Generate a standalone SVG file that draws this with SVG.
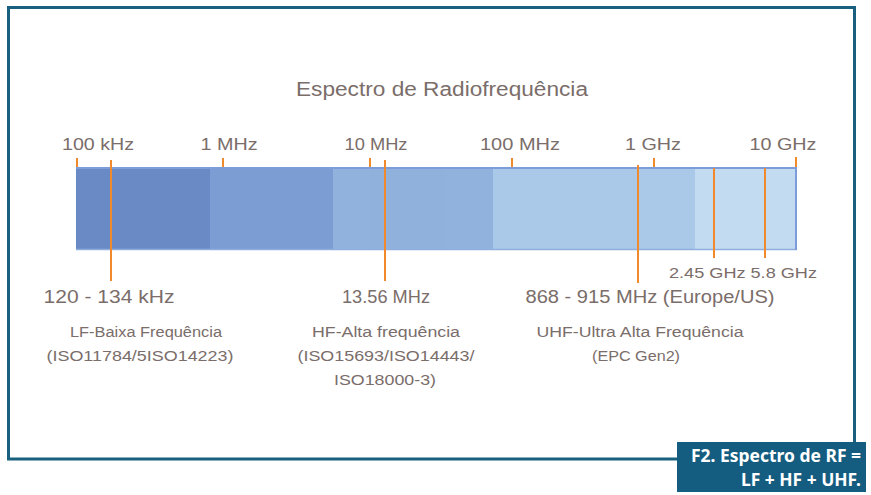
<svg xmlns="http://www.w3.org/2000/svg" width="871" height="495" viewBox="0 0 871 495">
<style>
.lbl{font-family:"Liberation Sans",Arial,sans-serif;fill:#7a6d6a;text-anchor:middle}
.title{font-size:20px}
.tick{font-size:17px}
.freq{font-size:18px}
.small{font-size:15px}
.desc{font-size:15.5px}
.cap{font-family:"Noto Sans","Open Sans",sans-serif;font-weight:bold;fill:#ffffff;font-size:18px;text-anchor:end}
.or{stroke:#f08a2c;stroke-width:2;fill:none}
</style>
<rect width="871" height="495" fill="#ffffff"/>
<rect id="frame" x="8.5" y="7.5" width="846" height="451.5" fill="none" stroke="#19607f" stroke-width="3"/>

<text id="title" class="lbl title" x="442" y="96" textLength="292" lengthAdjust="spacingAndGlyphs">Espectro de Radiofrequência</text>

<g id="bar">
  <rect x="76" y="167" width="134" height="83" fill="#6a8ac5"/>
  <rect x="210" y="167" width="123" height="83" fill="#7b9dd3"/>
  <rect x="333" y="167" width="160" height="83" fill="#92b2de"/>
  <rect x="370" y="169" width="75" height="80" fill="#8fafdc" opacity="0.5"/>
  <rect x="493" y="167" width="202" height="83" fill="#aac9e9"/>
  <rect x="695" y="167" width="102" height="83" fill="#c3dbf1"/>
  <line x1="76" y1="168" x2="797" y2="168" stroke="#7d9dda" stroke-width="2"/>
  <line x1="76" y1="249.5" x2="797" y2="249.5" stroke="#8eaede" stroke-width="1.5"/>
  <line x1="796" y1="167" x2="796" y2="250" stroke="#7d9dda" stroke-width="2"/>
</g>

<g id="scale">
  <text class="lbl tick" x="98" y="150" textLength="72" lengthAdjust="spacingAndGlyphs">100 kHz</text>
  <text class="lbl tick" x="229" y="150" textLength="57" lengthAdjust="spacingAndGlyphs">1 MHz</text>
  <text class="lbl tick" x="376" y="150" textLength="63" lengthAdjust="spacingAndGlyphs">10 MHz</text>
  <text class="lbl tick" x="520" y="150" textLength="80" lengthAdjust="spacingAndGlyphs">100 MHz</text>
  <text class="lbl tick" x="653" y="150" textLength="56" lengthAdjust="spacingAndGlyphs">1 GHz</text>
  <text class="lbl tick" x="783" y="150" textLength="67" lengthAdjust="spacingAndGlyphs">10 GHz</text>
</g>

<g id="connectors">
  <line class="or" x1="77" y1="158" x2="77" y2="167"/>
  <line class="or" x1="223" y1="158" x2="223" y2="167"/>
  <line class="or" x1="370" y1="158" x2="370" y2="167"/>
  <line class="or" x1="512" y1="158" x2="512" y2="167"/>
  <line class="or" x1="654" y1="158" x2="654" y2="167"/>
  <line class="or" x1="796" y1="157" x2="796" y2="167"/>
  <line class="or" x1="111" y1="160" x2="111" y2="281"/>
  <line class="or" x1="385" y1="160" x2="385" y2="281"/>
  <line class="or" x1="638" y1="165" x2="638" y2="283"/>
  <line class="or" x1="714" y1="168" x2="714" y2="258"/>
  <line class="or" x1="765" y1="168" x2="765" y2="258"/>
</g>

<g id="uhf-marks">
  <text class="lbl small" x="743" y="278" textLength="148" lengthAdjust="spacingAndGlyphs">2.45 GHz 5.8 GHz</text>
</g>

<g id="lf">
  <text class="lbl freq" x="109" y="303" textLength="131" lengthAdjust="spacingAndGlyphs">120 - 134 kHz</text>
  <text class="lbl desc" x="146" y="337" textLength="152" lengthAdjust="spacingAndGlyphs">LF-Baixa Frequência</text>
  <text class="lbl desc" x="140" y="361" textLength="187" lengthAdjust="spacingAndGlyphs">(ISO11784/5ISO14223)</text>
</g>

<g id="hf">
  <text class="lbl freq" x="386" y="303" textLength="88" lengthAdjust="spacingAndGlyphs">13.56 MHz</text>
  <text class="lbl desc" x="386" y="337" textLength="148" lengthAdjust="spacingAndGlyphs">HF-Alta frequência</text>
  <text class="lbl desc" x="386" y="361" textLength="177" lengthAdjust="spacingAndGlyphs">(ISO15693/ISO14443/</text>
  <text class="lbl desc" x="385" y="385" textLength="102" lengthAdjust="spacingAndGlyphs">ISO18000-3)</text>
</g>

<g id="uhf">
  <text class="lbl freq" x="650" y="303" textLength="249" lengthAdjust="spacingAndGlyphs">868 - 915 MHz (Europe/US)</text>
  <text class="lbl desc" x="640" y="337" textLength="207" lengthAdjust="spacingAndGlyphs">UHF-Ultra Alta Frequência</text>
  <text class="lbl desc" x="636" y="361" textLength="88" lengthAdjust="spacingAndGlyphs">(EPC Gen2)</text>
</g>

<g id="caption">
  <rect x="677" y="442" width="189" height="50" fill="#155d80"/>
  <text class="cap" x="861" y="462" textLength="170" lengthAdjust="spacingAndGlyphs">F2. Espectro de RF =</text>
  <text class="cap" x="861" y="486" textLength="120" lengthAdjust="spacingAndGlyphs">LF + HF + UHF.</text>
</g>
</svg>
